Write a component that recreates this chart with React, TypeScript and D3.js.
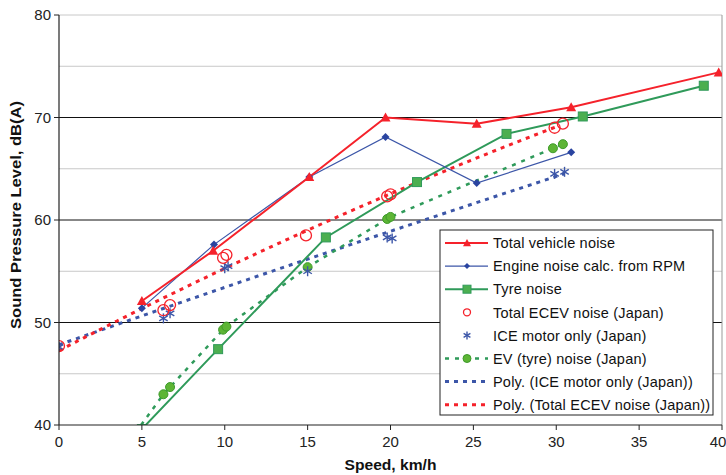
import React from "react";
import * as d3 from "d3";

// measured series, speed km/h vs dB(A)
const totalSpeed = [5, 9.3, 15.1, 19.7, 25.2, 30.9, 39.8];
const totalDb = [52.1, 57.0, 64.2, 70.0, 69.4, 71.0, 74.4];

const engineSpeed = [5, 9.35, 15.1, 19.7, 25.2, 30.9];
const engineDb = [51.4, 57.6, 64.2, 68.1, 63.6, 66.6];

const tyreSpeed = [5, 9.6, 16.1, 21.6, 27.0, 31.6, 38.9];
const tyreDb = [39.6, 47.4, 58.3, 63.7, 68.4, 70.1, 73.1];

// Japan measurements
const ecevSpeed = [0, 6.3, 6.7, 9.9, 10.1, 14.9, 19.8, 20.0, 29.9, 30.4];
const ecevDb = [47.7, 51.2, 51.7, 56.3, 56.6, 58.5, 62.3, 62.5, 69.0, 69.4];

const iceSpeed = [0, 6.3, 6.7, 10.0, 10.2, 15.0, 19.8, 20.1, 29.9, 30.5];
const iceDb = [47.6, 50.4, 50.9, 55.3, 55.5, 55.0, 58.3, 58.2, 64.5, 64.7];

const evSpeed = [4.6, 6.3, 6.7, 9.9, 10.1, 15.0, 19.8, 20.0, 29.8, 30.4];
const evDb = [39.2, 43.0, 43.7, 49.3, 49.6, 55.4, 60.1, 60.3, 67.0, 67.4];

const xTicks = [0, 5, 10, 15, 20, 25, 30, 35, 40];
const yMajor = [50, 60, 70];
const yMinor = [45, 55, 65, 75, 80];
const yTicks = [40, 50, 60, 70, 80];

const legendLabels = [
  "Total vehicle noise",
  "Engine noise calc. from RPM",
  "Tyre noise",
  "Total ECEV noise (Japan)",
  "ICE motor only (Japan)",
  "EV (tyre) noise (Japan)",
  "Poly. (ICE motor only (Japan))",
  "Poly. (Total ECEV noise (Japan))",
];

const RED = "#f5222b";
const BLUE = "#3c56a8";
const DKBLUE = "#2a44a0";
const GREEN = "#2f9a5a";
const LTGREEN = "#5db535";

// 2nd order least squares, like Excel's poly trendline
function polyFit(xs: number[], ys: number[]) {
  const s = [0, 0, 0, 0, 0];
  const t = [0, 0, 0];
  xs.forEach((x, i) => {
    for (let k = 0; k < 5; k++) s[k] += Math.pow(x, k);
    for (let k = 0; k < 3; k++) t[k] += ys[i] * Math.pow(x, k);
  });
  const m = [
    [s[0], s[1], s[2], t[0]],
    [s[1], s[2], s[3], t[1]],
    [s[2], s[3], s[4], t[2]],
  ];
  for (let c = 0; c < 3; c++) {
    for (let r = c + 1; r < 3; r++) {
      const f = m[r][c] / m[c][c];
      for (let k = c; k < 4; k++) m[r][k] -= f * m[c][k];
    }
  }
  const coef = [0, 0, 0];
  for (let r = 2; r >= 0; r--) {
    let v = m[r][3];
    for (let k = r + 1; k < 3; k++) v -= m[r][k] * coef[k];
    coef[r] = v / m[r][r];
  }
  return (x: number) => coef[0] + coef[1] * x + coef[2] * x * x;
}

const zip = (a: number[], b: number[]) => a.map((v, i) => [v, b[i]] as [number, number]);

const left = 59, right = 722, top = 15, bottom = 425;
const x = d3.scaleLinear().domain([0, 40]).range([left, right]);
const y = d3.scaleLinear().domain([40, 80]).range([bottom, top]);

const line = d3.line<[number, number]>().x(d => x(d[0])).y(d => y(d[1]));

const Tri = ({ cx, cy, s = 5 }: any) => (
  <path d={`M${cx},${cy - s}L${cx + s},${cy + s * 0.8}L${cx - s},${cy + s * 0.8}Z`} fill={RED} />
);
const Diamond = ({ cx, cy, s = 4 }: any) => (
  <path d={`M${cx},${cy - s}L${cx + s},${cy}L${cx},${cy + s}L${cx - s},${cy}Z`} fill={DKBLUE} />
);
const Square = ({ cx, cy, s = 4.5 }: any) => (
  <rect x={cx - s} y={cy - s} width={2 * s} height={2 * s} fill="#4caf50" stroke={GREEN} strokeWidth={1} />
);
const OpenCircle = ({ cx, cy, r = 5.5 }: any) => (
  <circle cx={cx} cy={cy} r={r} fill="none" stroke={RED} strokeWidth={1.3} />
);
const Star = ({ cx, cy, s = 5 }: any) => (
  <g stroke={BLUE} strokeWidth={1.4}>
    <line x1={cx} y1={cy - s} x2={cx} y2={cy + s} />
    <line x1={cx - s * 0.85} y1={cy - s * 0.5} x2={cx + s * 0.85} y2={cy + s * 0.5} />
    <line x1={cx - s * 0.85} y1={cy + s * 0.5} x2={cx + s * 0.85} y2={cy - s * 0.5} />
  </g>
);
const Dot = ({ cx, cy, r = 4.5 }: any) => (
  <circle cx={cx} cy={cy} r={r} fill={LTGREEN} stroke="#3d9b2a" strokeWidth={1} />
);

export default function App() {
  const width = 726, height = 475;
  const iceFit = polyFit(iceSpeed, iceDb);
  const ecevFit = polyFit(ecevSpeed, ecevDb);
  const iceTrend = d3.range(0, d3.max(iceSpeed)! + 0.01, 0.5).map(v => [v, iceFit(v)] as [number, number]);
  const ecevTrend = d3.range(0, d3.max(ecevSpeed)! + 0.01, 0.5).map(v => [v, ecevFit(v)] as [number, number]);

  const legX = 440, legY = 230, legW = 273, legH = 185;
  const rowY = (i: number) => legY + 13 + i * 23.1;
  const sx = legX + 27;

  return (
    <svg width={width} height={height} style={{ position: "absolute", left: 0, top: 0, background: "#fff" }}
      fontFamily="Arial, 'Liberation Sans', sans-serif">
      <defs>
        <clipPath id="plot">
          <rect x={left} y={top} width={right - left} height={bottom - top} />
        </clipPath>
      </defs>

      {yMinor.map(v => (
        <line key={"mn" + v} x1={left} x2={right} y1={y(v)} y2={y(v)} stroke="#c8c8c8" strokeWidth={1} />
      ))}
      {yMajor.map(v => (
        <line key={"mj" + v} x1={left} x2={right} y1={y(v)} y2={y(v)} stroke="#111" strokeWidth={1} />
      ))}
      <line x1={right} x2={right} y1={top} y2={bottom} stroke="#999" strokeWidth={1} />

      <g clipPath="url(#plot)">
        <path d={line(iceTrend)!} fill="none" stroke={BLUE} strokeWidth={3} strokeDasharray="4,5" />
        <path d={line(ecevTrend)!} fill="none" stroke={RED} strokeWidth={3} strokeDasharray="4,5" />
        <path d={line(zip(evSpeed, evDb))!} fill="none" stroke={GREEN} strokeWidth={2.5} strokeDasharray="4,6" />
        <path d={line(zip(tyreSpeed, tyreDb))!} fill="none" stroke={GREEN} strokeWidth={2} />
        <path d={line(zip(engineSpeed, engineDb))!} fill="none" stroke={BLUE} strokeWidth={1.2} />
        <path d={line(zip(totalSpeed, totalDb))!} fill="none" stroke={RED} strokeWidth={2} />

        {zip(evSpeed, evDb).map((d, i) => <Dot key={"ev" + i} cx={x(d[0])} cy={y(d[1])} />)}
        {zip(iceSpeed, iceDb).map((d, i) => <Star key={"ic" + i} cx={x(d[0])} cy={y(d[1])} />)}
        {zip(ecevSpeed, ecevDb).map((d, i) => <OpenCircle key={"ec" + i} cx={x(d[0])} cy={y(d[1])} />)}
        {zip(tyreSpeed, tyreDb).map((d, i) => <Square key={"ty" + i} cx={x(d[0])} cy={y(d[1])} />)}
        {zip(engineSpeed, engineDb).map((d, i) => <Diamond key={"en" + i} cx={x(d[0])} cy={y(d[1])} />)}
        {zip(totalSpeed, totalDb).map((d, i) => <Tri key={"to" + i} cx={x(d[0])} cy={y(d[1])} />)}
      </g>

      {/* axes */}
      <line x1={left} x2={left} y1={top} y2={bottom} stroke="#222" strokeWidth={1.2} />
      <line x1={left} x2={right} y1={bottom} y2={bottom} stroke="#222" strokeWidth={1.2} />
      {yTicks.map(v => (
        <g key={"yt" + v}>
          <line x1={left - 5} x2={left} y1={y(v)} y2={y(v)} stroke="#222" />
          <text x={left - 8} y={y(v)} dy="0.36em" textAnchor="end" fontSize={15} fill="#222">{v}</text>
        </g>
      ))}
      {xTicks.map(v => (
        <g key={"xt" + v}>
          <line x1={x(v)} x2={x(v)} y1={bottom} y2={bottom + 5} stroke="#222" />
          <text x={Math.min(x(v), 718)} y={bottom + 22} textAnchor="middle" fontSize={15} fill="#222">{v}</text>
        </g>
      ))}
      <text x={(left + right) / 2} y={470} textAnchor="middle" fontSize={14} fontWeight="bold" fill="#111"
        textLength={92} lengthAdjust="spacingAndGlyphs">Speed, km/h</text>
      <text transform={`translate(21,215) rotate(-90)`} textAnchor="middle" fontSize={14}
        fontWeight="bold" fill="#111" textLength={228} lengthAdjust="spacingAndGlyphs">Sound Pressure Level, dB(A)</text>

      {/* legend */}
      <rect x={legX} y={legY} width={legW} height={legH} fill="#fff" stroke="#222" strokeWidth={1} />
      <line x1={legX + 5} x2={legX + 48} y1={rowY(0)} y2={rowY(0)} stroke={RED} strokeWidth={2} />
      <Tri cx={sx} cy={rowY(0)} s={4} />
      <line x1={legX + 5} x2={legX + 48} y1={rowY(1)} y2={rowY(1)} stroke={BLUE} strokeWidth={1.2} />
      <Diamond cx={sx} cy={rowY(1)} s={3} />
      <line x1={legX + 5} x2={legX + 48} y1={rowY(2)} y2={rowY(2)} stroke={GREEN} strokeWidth={2} />
      <Square cx={sx} cy={rowY(2)} s={4} />
      <OpenCircle cx={sx} cy={rowY(3)} r={3.5} />
      <Star cx={sx} cy={rowY(4)} s={4} />
      <line x1={legX + 5} x2={legX + 48} y1={rowY(5)} y2={rowY(5)} stroke={GREEN} strokeWidth={2.5} strokeDasharray="4,6" />
      <Dot cx={sx} cy={rowY(5)} r={4} />
      <line x1={legX + 5} x2={legX + 48} y1={rowY(6)} y2={rowY(6)} stroke={BLUE} strokeWidth={3} strokeDasharray="4,5" />
      <line x1={legX + 5} x2={legX + 48} y1={rowY(7)} y2={rowY(7)} stroke={RED} strokeWidth={3} strokeDasharray="4,5" />
      {legendLabels.map((t, i) => (
        <text key={t} x={legX + 53} y={rowY(i)} dy="0.36em" fontSize={14.5} letterSpacing={0.2} fill="#111">{t}</text>
      ))}
    </svg>
  );
}
